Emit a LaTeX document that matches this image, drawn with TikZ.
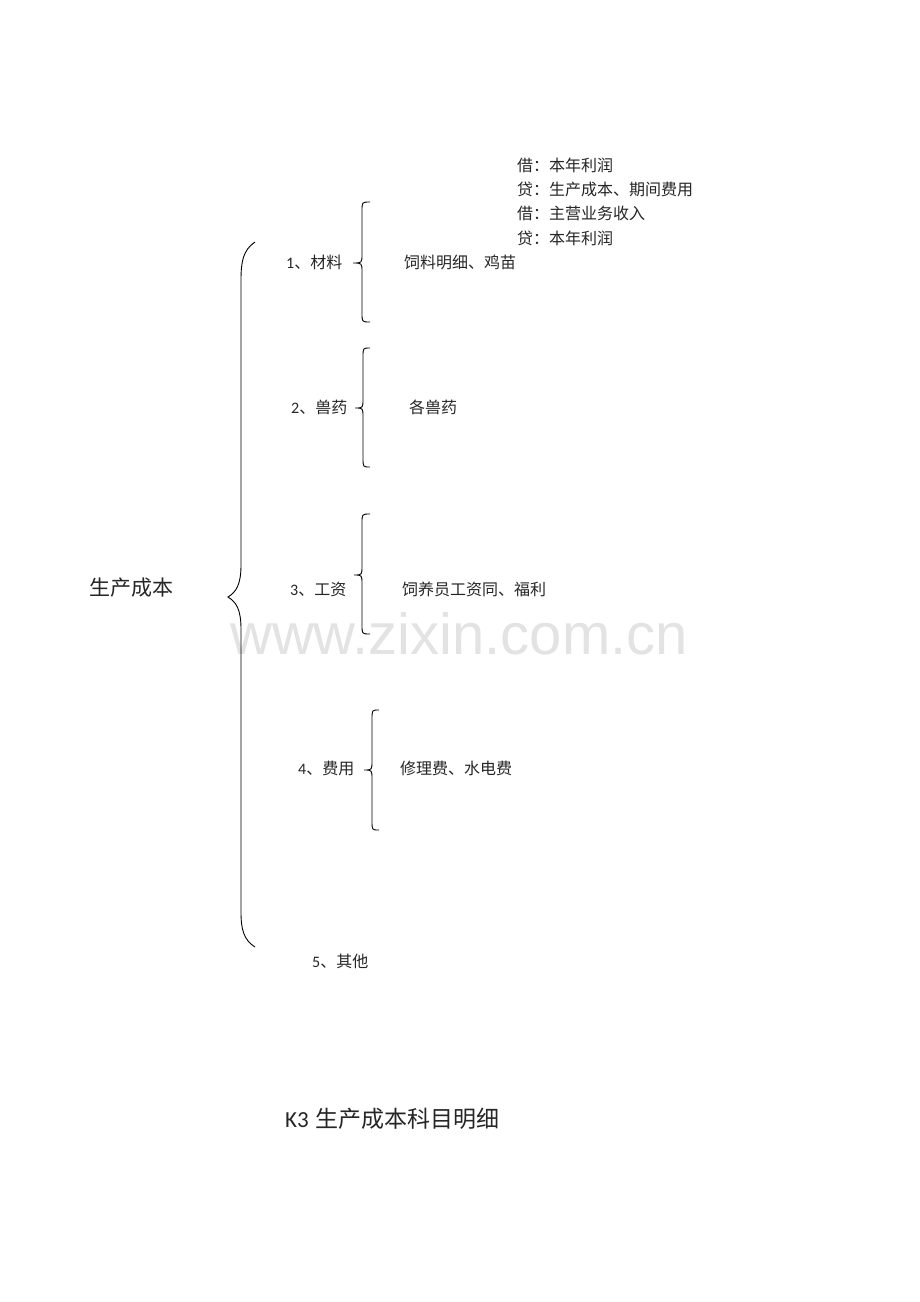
\documentclass[tikz,border=0pt]{standalone}
\usepackage{fontspec}
\setmainfont{Carlito}
\newfontfamily\cjk{Noto Sans CJK SC}
\newfontfamily\lat{Carlito}
\newfontfamily\wm{Liberation Sans}
\begin{document}
\begin{tikzpicture}[x=1pt,y=-1pt,
  txt/.style={anchor=west,inner sep=0pt,font=\fontsize{16}{18}\selectfont\cjk,text=black!85},
  big/.style={anchor=west,inner sep=0pt,font=\fontsize{21}{24}\selectfont\cjk,text=black!85},
  brace/.style={draw=black,line width=0.9pt}]
\fill[white] (0,0) rectangle (920,1302);
\useasboundingbox (0,0) rectangle (920,1302);
% watermark
\node[anchor=center,inner sep=0pt,font=\fontsize{58}{64}\selectfont\wm,text=black!11] (wm) at (459,634) {www.zixin.com.cn};
% journal entries
\node[txt] (j1) at (517,165) {借：本年利润};
\node[txt] (j2) at (517,189) {贷：生产成本、期间费用};
\node[txt] (j3) at (517,213) {借：主营业务收入};
\node[txt] (j4) at (517,238) {贷：本年利润};
% main
\node[big] (main) at (89,588) {生产成本};
% items
\node[txt] (i1) at (286,262) {{\lat 1}、材料};
\node[txt] (d1) at (404,262) {饲料明细、鸡苗};
\node[txt] (i2) at (291,407) {{\lat 2}、兽药};
\node[txt] (d2) at (409,407) {各兽药};
\node[txt] (i3) at (290,589) {{\lat 3}、工资};
\node[txt] (d3) at (402,589) {饲养员工资同、福利};
\node[txt] (i4) at (298,768) {{\lat 4}、费用};
\node[txt] (d4) at (400,768) {修理费、水电费};
\node[txt] (i5) at (312,961) {{\lat 5}、其他};
% title
\node[anchor=west,inner sep=0pt,font=\fontsize{23}{26}\selectfont\cjk,text=black!85] (title) at (285,1119) {{\lat K3}\kern7pt 生产成本科目明细};
% big brace
\draw[brace] (255,242) .. controls (243,250) and (241,262) .. (241,280)
  -- (241,565) .. controls (241,585) and (236,592) .. (228,597)
  .. controls (236,602) and (241,609) .. (241,629)
  -- (241,912) .. controls (241,930) and (244,940) .. (255,947);
% small braces
\newcommand\mybrace[7]{% L, T, E, y1, ym, y2, r
  \draw[brace] (#3,#4) .. controls (#1,#4) .. (#1,#4+#7) -- (#1,#5-#7)
   .. controls (#1,#5) .. (#2,#5) .. controls (#1,#5) .. (#1,#5+#7)
   -- (#1,#6-#7) .. controls (#1,#6) .. (#3,#6);}
\mybrace{362}{353}{370}{202}{263}{322}{9}
\mybrace{363}{355}{370}{348}{408}{467}{9}
\mybrace{362}{354}{370}{514}{575}{634}{9}
\mybrace{372}{364}{379}{710}{770}{830}{9}
\end{tikzpicture}
\end{document}
